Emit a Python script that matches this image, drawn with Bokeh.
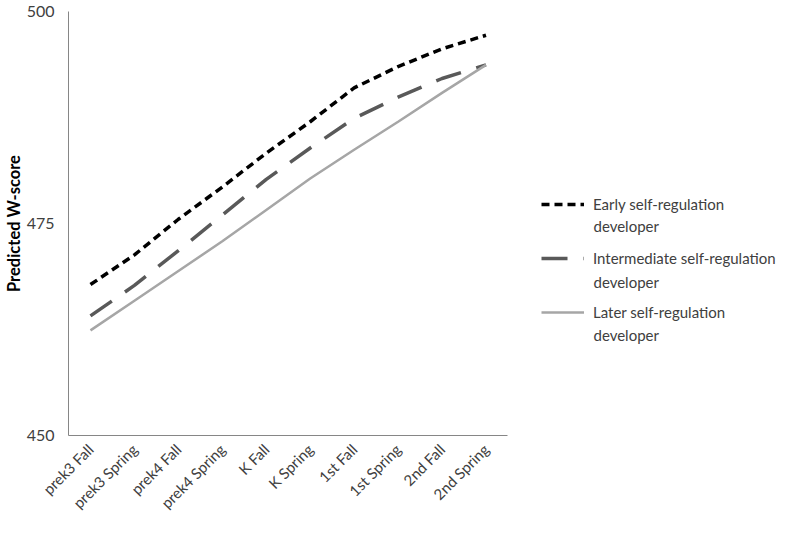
import math
from bokeh.plotting import figure
from bokeh.models import Range1d, FixedTicker, Legend, LegendItem, Label
from bokeh.embed import file_html
from bokeh.resources import INLINE

terms = ["prek3 Fall", "prek3 Spring", "prek4 Fall", "prek4 Spring", "K Fall",
         "K Spring", "1st Fall", "1st Spring", "2nd Fall", "2nd Spring"]
early = [467.8, 471.3, 475.5, 479.3, 483.3, 487.0, 491.0, 493.5, 495.6, 497.2]
intermediate = [464.1, 467.7, 471.8, 476.0, 480.2, 483.9, 487.4, 489.9, 492.1, 493.7]
later = [462.4, 465.9, 469.4, 472.9, 476.6, 480.3, 483.7, 487.0, 490.4, 493.7]
series_first_lines = ["Early self-regulation",
                      "Intermediate self-regulation",
                      "Later self-regulation"]
series_second_line = "developer"
y_ticks = [450, 475, 500]

FONT = "Lato"
TXT = "#404040"

W, H = 784, 521
LEFT = 59
FRAME_W = W - LEFT
PLOT_W = 445  # width taken by the categories; the rest of the frame holds the legend

xs = list(range(len(terms)))
n = len(terms)

p = figure(x_range=Range1d(-0.5, -0.5 + n * FRAME_W / PLOT_W),
           y_range=Range1d(450, 500),
           width=W, height=H,
           min_border_left=LEFT, min_border_right=0, min_border_top=11, min_border_bottom=80,
           output_backend="svg", toolbar_location=None)
p.outline_line_color = None
p.xgrid.grid_line_color = None
p.ygrid.grid_line_color = None

r1 = p.line(xs, early, line_color="#000000", line_width=3.5, line_dash="8 5")
r2 = p.line(xs, intermediate, line_color="#595959", line_width=3.5, line_dash="26 16")
r3 = p.line(xs, later, line_color="#a6a6a6", line_width=2.5)

for ax in (p.xaxis[0], p.yaxis[0]):
    ax.axis_line_color = "#868686"
    ax.axis_line_width = 1
    ax.major_tick_line_color = None
    ax.minor_tick_line_color = None
    ax.major_label_text_font = FONT
    ax.major_label_text_color = TXT

p.xaxis.ticker = FixedTicker(ticks=xs)
p.xaxis.major_label_overrides = {i: t for i, t in zip(xs, terms)}
p.xaxis.bounds = (-0.5, n - 0.5)

p.yaxis.ticker = FixedTicker(ticks=y_ticks)
p.yaxis.major_label_text_font_size = "16px"
p.yaxis.major_label_standoff = 8
p.yaxis.axis_label = "Predicted W-score"
p.yaxis.axis_label_text_font = FONT
p.yaxis.axis_label_text_font_style = "bold"
p.yaxis.axis_label_text_font_size = "16.5px"
p.yaxis.axis_label_text_color = "#000000"
p.yaxis.axis_label_standoff = 0

p.xaxis.major_label_orientation = math.pi / 4
p.xaxis.major_label_text_font_size = "15px"
p.xaxis.major_label_standoff = 5

FB = 435  # expected frame bottom (page px) used to place the legend block
legend = Legend(items=[LegendItem(label=series_first_lines[0], renderers=[r1]),
                       LegendItem(label=series_first_lines[1], renderers=[r2]),
                       LegendItem(label=series_first_lines[2], renderers=[r3])],
                location=(473, FB - 322))
legend.border_line_color = None
legend.background_fill_alpha = 0
legend.margin = 0
legend.padding = 0
legend.glyph_width = 43
legend.glyph_height = 20
legend.label_height = 20
legend.label_standoff = 9
legend.spacing = 34
legend.label_text_font = FONT
legend.label_text_font_size = "15px"
legend.label_text_color = TXT
p.add_layout(legend, "center")

for ypos in (FB - 225, FB - 281, FB - 334):
    p.add_layout(Label(x=525, y=ypos, x_units="screen", y_units="screen",
                       text=series_second_line, text_font=FONT, text_font_size="15px",
                       text_color=TXT, text_baseline="middle", text_align="left"))

open("out.html", "w").write(file_html(p, INLINE))
